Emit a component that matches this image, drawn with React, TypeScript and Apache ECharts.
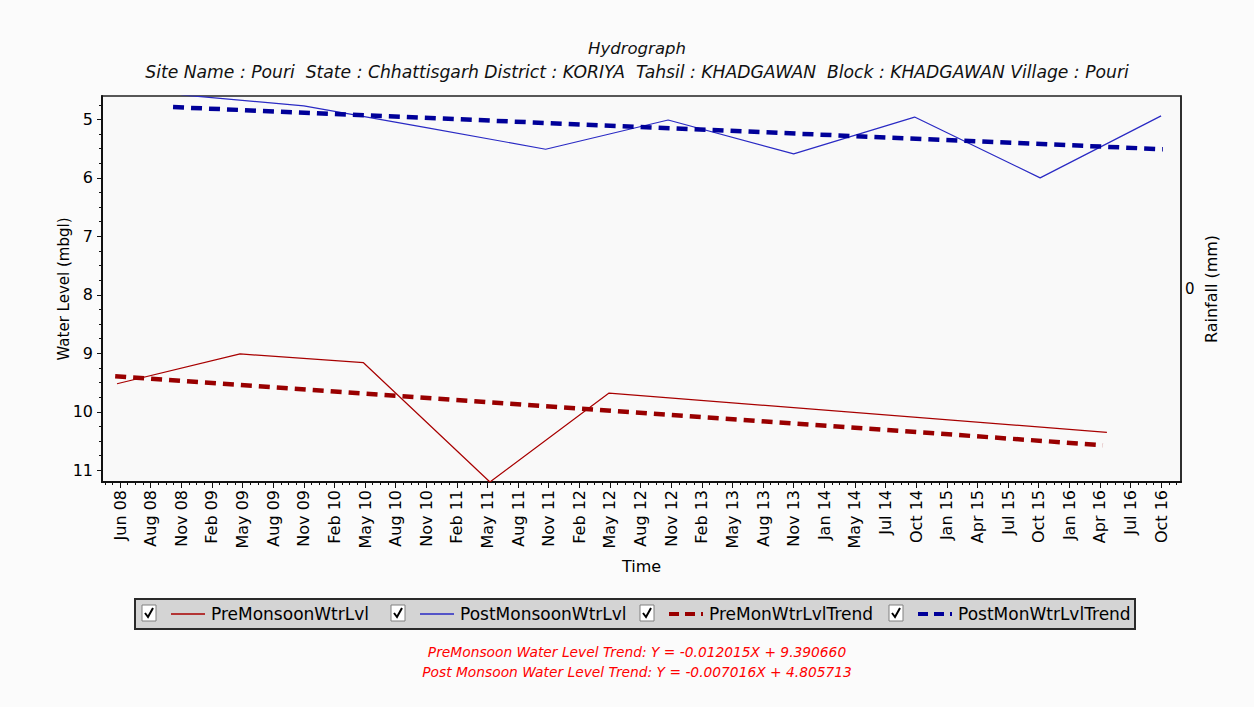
import React, { useEffect, useRef } from 'react';
import * as echarts from 'echarts';

// Tick labels along the time axis (evenly spaced ticks, index 0..34)
const timeTickLabels = [
  'Jun 08', 'Aug 08', 'Nov 08', 'Feb 09', 'May 09', 'Aug 09', 'Nov 09', 'Feb 10', 'May 10',
  'Aug 10', 'Nov 10', 'Feb 11', 'May 11', 'Aug 11', 'Nov 11', 'Feb 12', 'May 12', 'Aug 12',
  'Nov 12', 'Feb 13', 'May 13', 'Aug 13', 'Nov 13', 'Jan 14', 'May 14', 'Jul 14', 'Oct 14',
  'Jan 15', 'Apr 15', 'Jul 15', 'Oct 15', 'Jan 16', 'Apr 16', 'Jul 16', 'Oct 16',
];
const waterLevelTicks = [5, 6, 7, 8, 9, 10, 11];

// Series positions are given in time-tick units (0 = Jun 08, 34 = Oct 16)
const preMonsoonTime = [-0.1, 3.92, 7.95, 12.08, 15.97, 32.23];
const preMonsoonLevel = [9.52, 9.01, 9.16, 11.2, 9.68, 10.35];

const postMonsoonTime = [2.0, 6.0, 10.0, 13.9, 17.9, 22.0, 25.95, 30.05, 34.0];
const postMonsoonLevel = [4.58, 4.77, 5.14, 5.51, 5.01, 5.59, 4.96, 6.0, 4.94];

const preTrendTime = [-0.16, 32.1];
const preTrendLevel = [9.39, 10.57];

const postTrendTime = [1.73, 34.06];
const postTrendLevel = [4.79, 5.51];

const legendNames = ['PreMonsoonWtrLvl', 'PostMonsoonWtrLvl', 'PreMonWtrLvlTrend', 'PostMonWtrLvlTrend'];

const FONT = '"DejaVu Sans", "Liberation Sans", Arial, sans-serif';

function pairs(xs: number[], ys: number[]) {
  return xs.map((x, i) => [x, ys[i]]);
}

export default function App() {
  const ref = useRef<HTMLDivElement>(null);

  useEffect(() => {
    if (!ref.current) return;
    const chart = echarts.init(ref.current, null, { renderer: 'svg' });

    const xMin = -0.59;
    const xMax = 34.65;
    const yMin = 4.6;
    const yMax = 11.2;

    const minorX: number[] = [];
    for (let i = -2; i <= 138; i++) {
      const v = i / 4;
      if (v > xMin && v < xMax) minorX.push(v);
    }
    const minorY: number[] = [];
    for (let i = 19; i <= 44; i++) {
      const v = i / 4;
      if (v > yMin && v < yMax) minorY.push(v);
    }

    const majorX = timeTickLabels.map((_, i) => i);

    const legendX = [142, 391, 640, 889];
    const legendColors = ['#a80000', '#2a2ac4', '#990000', '#000099'];
    const legendGraphics: any[] = [
      {
        type: 'rect',
        shape: { x: 135, y: 599, width: 1000, height: 30 },
        style: { fill: '#d4d4d4', stroke: '#2a2a2a', lineWidth: 2 },
      },
    ];
    legendNames.forEach((name, i) => {
      const x0 = legendX[i];
      legendGraphics.push({
        type: 'rect',
        shape: { x: x0, y: 605, width: 14, height: 16 },
        style: { fill: '#ffffff', stroke: '#808080', lineWidth: 1 },
      });
      legendGraphics.push({
        type: 'polyline',
        shape: { points: [[x0 + 3, 613], [x0 + 6, 617], [x0 + 11, 608]] },
        style: { stroke: '#000', lineWidth: 2, fill: 'none' },
      });
      const dashed = i >= 2;
      legendGraphics.push({
        type: 'line',
        shape: { x1: x0 + 29, y1: 614, x2: x0 + 63, y2: 614 },
        style: {
          stroke: legendColors[i],
          lineWidth: dashed ? 4 : 1.5,
          lineDash: dashed ? [10, 6] : null,
        },
      });
      legendGraphics.push({
        type: 'text',
        x: x0 + 69,
        y: 614,
        style: {
          text: name,
          fill: '#000',
          font: `17px ${FONT}`,
          verticalAlign: 'middle',
          align: 'left',
        },
      });
    });

    const option: any = {
      animation: false,
      backgroundColor: '#fbfbfb',
      grid: {
        left: 102,
        top: 96,
        right: 73,
        bottom: 225,
        show: true,
        backgroundColor: '#f9f9f9',
        borderColor: '#222',
        borderWidth: 1.5,
      },
      graphic: [
        {
          type: 'text',
          x: 637,
          y: 48,
          style: {
            text: 'Hydrograph',
            fill: '#111',
            font: `italic 16.5px ${FONT}`,
            align: 'center',
            verticalAlign: 'middle',
          },
        },
        {
          type: 'text',
          x: 637,
          y: 72,
          style: {
            text: 'Site Name : Pouri  State : Chhattisgarh District : KORIYA  Tahsil : KHADGAWAN  Block : KHADGAWAN Village : Pouri',
            fill: '#111',
            font: `italic 17.2px ${FONT}`,
            align: 'center',
            verticalAlign: 'middle',
          },
        },
        ...legendGraphics,
        {
          type: 'text',
          x: 637,
          y: 652,
          style: {
            text: 'PreMonsoon Water Level Trend: Y = -0.012015X + 9.390660',
            fill: '#ff0000',
            font: `italic 13.8px ${FONT}`,
            align: 'center',
            verticalAlign: 'middle',
          },
        },
        {
          type: 'text',
          x: 637,
          y: 672,
          style: {
            text: 'Post Monsoon Water Level Trend: Y = -0.007016X + 4.805713',
            fill: '#ff0000',
            font: `italic 13.8px ${FONT}`,
            align: 'center',
            verticalAlign: 'middle',
          },
        },
      ],
      xAxis: [
        {
          type: 'value',
          position: 'bottom',
          min: xMin,
          max: xMax,
          name: 'Time',
          nameLocation: 'middle',
          nameGap: 76,
          nameMoveOverlap: false,
          nameTextStyle: { color: '#000', fontSize: 16, fontFamily: FONT },
          axisLine: { show: true, onZero: false, lineStyle: { color: '#111', width: 2 } },
          axisTick: { show: true, customValues: majorX, length: 6, lineStyle: { color: '#111' } },
          axisLabel: {
            customValues: majorX,
            rotate: 90,
            margin: 8,
            color: '#000',
            fontSize: 16,
            fontFamily: FONT,
            formatter: (v: number) => timeTickLabels[Math.round(v)] ?? '',
          },
          splitLine: { show: false },
        },
        {
          type: 'value',
          position: 'bottom',
          min: xMin,
          max: xMax,
          axisLine: { show: false, onZero: false },
          axisTick: { show: true, customValues: minorX, length: 3, lineStyle: { color: '#111' } },
          axisLabel: { show: false },
          splitLine: { show: false },
        },
      ],
      yAxis: [
        {
          type: 'value',
          position: 'left',
          inverse: true,
          min: yMin,
          max: yMax,
          name: 'Water Level (mbgl)',
          nameLocation: 'middle',
          nameRotate: 90,
          nameGap: 31,
          nameMoveOverlap: false,
          nameTextStyle: { color: '#000', fontSize: 15, fontFamily: FONT },
          axisLine: { show: true, onZero: false, lineStyle: { color: '#111', width: 2 } },
          axisTick: { show: true, customValues: waterLevelTicks, length: 5, lineStyle: { color: '#111' } },
          axisLabel: {
            customValues: waterLevelTicks,
            color: '#000',
            fontSize: 16,
            fontFamily: FONT,
            margin: 9,
          },
          splitLine: { show: false },
        },
        {
          type: 'value',
          position: 'left',
          inverse: true,
          min: yMin,
          max: yMax,
          axisLine: { show: false, onZero: false },
          axisTick: { show: true, customValues: minorY, length: 3, lineStyle: { color: '#111' } },
          axisLabel: { show: false },
          splitLine: { show: false },
        },
        {
          type: 'value',
          position: 'right',
          min: -1,
          max: 1,
          name: 'Rainfall (mm)',
          nameLocation: 'middle',
          nameRotate: 90,
          nameGap: 22,
          nameMoveOverlap: false,
          nameTextStyle: { color: '#000', fontSize: 16, fontFamily: FONT },
          axisLine: { show: true, onZero: false, lineStyle: { color: '#222', width: 1.5 } },
          axisTick: { show: false },
          axisLabel: {
            customValues: [0],
            color: '#000',
            fontSize: 15,
            fontFamily: FONT,
            margin: 4,
          },
          splitLine: { show: false },
        },
      ],
      series: [
        {
          name: legendNames[0],
          type: 'line',
          xAxisIndex: 0,
          yAxisIndex: 0,
          data: pairs(preMonsoonTime, preMonsoonLevel),
          showSymbol: false,
          lineStyle: { color: '#a80000', width: 1.2 },
          itemStyle: { color: '#a80000' },
        },
        {
          name: legendNames[1],
          type: 'line',
          xAxisIndex: 0,
          yAxisIndex: 0,
          data: pairs(postMonsoonTime, postMonsoonLevel),
          showSymbol: false,
          lineStyle: { color: '#2a2ac4', width: 1.2 },
          itemStyle: { color: '#2a2ac4' },
        },
        {
          name: legendNames[2],
          type: 'line',
          xAxisIndex: 0,
          yAxisIndex: 0,
          data: pairs(preTrendTime, preTrendLevel),
          showSymbol: false,
          lineStyle: { color: '#990000', width: 4.5, type: [11, 7] },
          itemStyle: { color: '#990000' },
        },
        {
          name: legendNames[3],
          type: 'line',
          xAxisIndex: 0,
          yAxisIndex: 0,
          data: pairs(postTrendTime, postTrendLevel),
          showSymbol: false,
          lineStyle: { color: '#000099', width: 4.5, type: [11, 7] },
          itemStyle: { color: '#000099' },
        },
      ],
    };

    chart.setOption(option);
    return () => chart.dispose();
  }, []);

  return (
    <div
      ref={ref}
      style={{ width: 1254, height: 707, position: 'absolute', left: 0, top: 0 }}
    />
  );
}
